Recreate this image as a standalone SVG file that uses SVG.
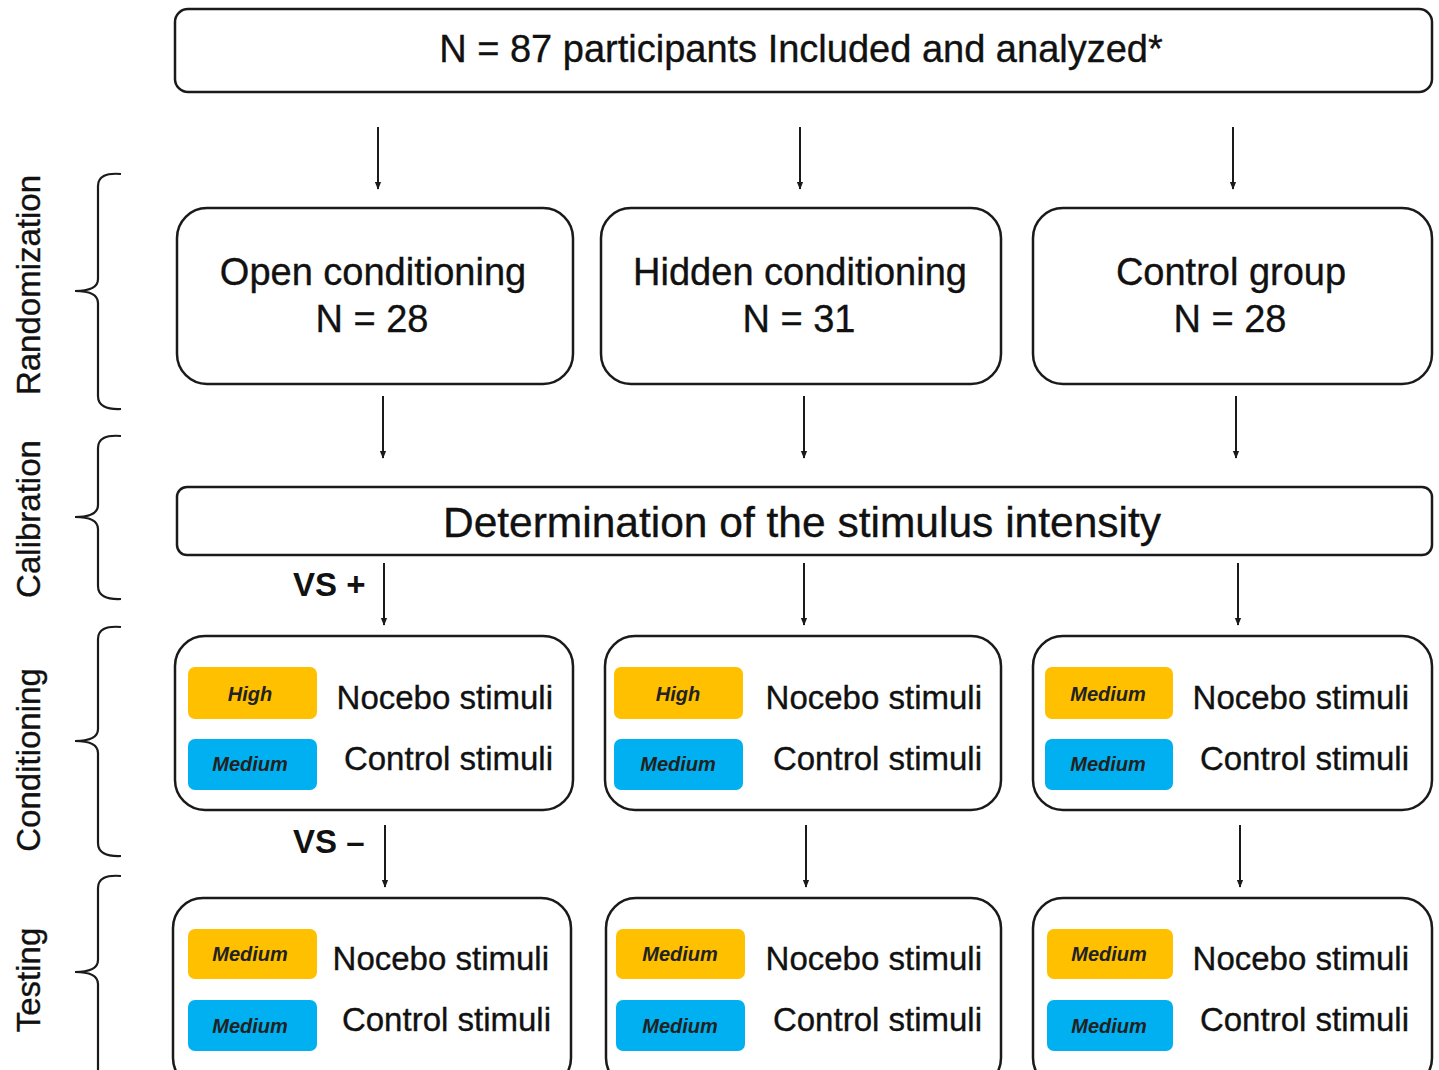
<svg xmlns="http://www.w3.org/2000/svg" width="1439" height="1070" viewBox="0 0 1439 1070">
<style>
text{font-family:"Liberation Sans",Arial,sans-serif;fill:#111;stroke:#111;stroke-width:0.35}
.box{fill:#fff;stroke:#1a1a1a;stroke-width:2.5}
.big{font-size:38px;text-anchor:middle}
.grp{font-size:38px;text-anchor:middle}
.stim{font-size:33px;text-anchor:end}
.pill{font-size:20px;font-weight:bold;font-style:italic;text-anchor:middle;fill:#222;stroke:none}
.y{fill:#FFC000}
.b{fill:#00B0F0}
.phase{font-size:33px;text-anchor:middle}
.vs{font-size:33px;font-weight:bold;stroke:none}
.conn line{stroke:#1a1a1a;stroke-width:2;marker-end:url(#ah)}
.brace{fill:none;stroke:#1a1a1a;stroke-width:2.2}
</style>
<defs>
<marker id="ah" viewBox="0 0 10 10" refX="9" refY="5" markerWidth="4" markerHeight="4" orient="auto">
<path d="M0,1 L10,5 L0,9 z" fill="#1a1a1a"/>
</marker>
</defs>
<rect width="1439" height="1070" fill="#fff"/>

<g id="phases">
<text class="phase" transform="translate(40,285) rotate(-90)">Randomization</text>
<text class="phase" transform="translate(40,519) rotate(-90)">Calibration</text>
<text class="phase" transform="translate(40,760) rotate(-90)">Conditioning</text>
<text class="phase" transform="translate(40,980) rotate(-90)">Testing</text>
<path class="brace" d="M121,174 Q98,172 98,186 L98,279 Q98,291 75,291 Q98,291 98,303 L98,396 Q98,410 121,409"/>
<path class="brace" d="M121,436 Q98,434 98,448 L98,505 Q98,517 75,517 Q98,517 98,529 L98,586 Q98,600 121,599"/>
<path class="brace" d="M121,627 Q98,625 98,639 L98,729 Q98,741 75,741 Q98,741 98,753 L98,843 Q98,857 121,856"/>
<path class="brace" d="M121,876 Q98,874 98,888 L98,960 Q98,972 75,972 Q98,972 98,984 L98,1072"/>
</g>

<g id="top">
<rect class="box" x="175" y="9" width="1257" height="83" rx="13"/>
<text class="big" x="801" y="62">N = 87 participants Included and analyzed*</text>
</g>

<g id="open">
<rect class="box" x="177" y="208" width="396" height="176" rx="30"/>
<text class="grp" x="373" y="285">Open conditioning</text>
<text class="grp" x="372" y="332">N = 28</text>
</g>
<g id="hidden">
<rect class="box" x="601" y="208" width="400" height="176" rx="30"/>
<text class="grp" x="800" y="285">Hidden conditioning</text>
<text class="grp" x="799" y="332">N = 31</text>
</g>
<g id="control">
<rect class="box" x="1033" y="208" width="399" height="176" rx="30"/>
<text class="grp" x="1231" y="285">Control group</text>
<text class="grp" x="1230" y="332">N = 28</text>
</g>

<g id="calibration">
<rect class="box" x="177" y="487" width="1255" height="68" rx="10"/>
<text x="802" y="537" style="font-size:42.5px;text-anchor:middle">Determination of the stimulus intensity</text>
</g>

<g id="cond-open">
<rect class="box" x="175" y="636" width="398" height="174" rx="30"/>
<rect class="y" x="188" y="667" width="129" height="52" rx="7"/>
<text class="pill" x="250" y="701">High</text>
<rect class="b" x="188" y="739" width="129" height="51" rx="7"/>
<text class="pill" x="250" y="771">Medium</text>
<text class="stim" x="553" y="709">Nocebo stimuli</text>
<text class="stim" x="553" y="770">Control stimuli</text>
</g>
<g id="cond-hidden">
<rect class="box" x="605" y="636" width="396" height="174" rx="30"/>
<rect class="y" x="614" y="667" width="129" height="52" rx="7"/>
<text class="pill" x="678" y="701">High</text>
<rect class="b" x="614" y="739" width="129" height="51" rx="7"/>
<text class="pill" x="678" y="771">Medium</text>
<text class="stim" x="982" y="709">Nocebo stimuli</text>
<text class="stim" x="982" y="770">Control stimuli</text>
</g>
<g id="cond-control">
<rect class="box" x="1033" y="636" width="399" height="174" rx="30"/>
<rect class="y" x="1045" y="667" width="128" height="52" rx="7"/>
<text class="pill" x="1108" y="701">Medium</text>
<rect class="b" x="1045" y="739" width="128" height="51" rx="7"/>
<text class="pill" x="1108" y="771">Medium</text>
<text class="stim" x="1409" y="709">Nocebo stimuli</text>
<text class="stim" x="1409" y="770">Control stimuli</text>
</g>

<g id="test-open">
<rect class="box" x="173" y="898" width="398" height="190" rx="30"/>
<rect class="y" x="188" y="929" width="129" height="50" rx="7"/>
<text class="pill" x="250" y="961">Medium</text>
<rect class="b" x="188" y="1000" width="129" height="51" rx="7"/>
<text class="pill" x="250" y="1033">Medium</text>
<text class="stim" x="549" y="970">Nocebo stimuli</text>
<text class="stim" x="551" y="1031">Control stimuli</text>
</g>
<g id="test-hidden">
<rect class="box" x="606" y="898" width="395" height="190" rx="30"/>
<rect class="y" x="616" y="929" width="129" height="50" rx="7"/>
<text class="pill" x="680" y="961">Medium</text>
<rect class="b" x="616" y="1000" width="129" height="51" rx="7"/>
<text class="pill" x="680" y="1033">Medium</text>
<text class="stim" x="982" y="970">Nocebo stimuli</text>
<text class="stim" x="982" y="1031">Control stimuli</text>
</g>
<g id="test-control">
<rect class="box" x="1033" y="898" width="399" height="190" rx="30"/>
<rect class="y" x="1047" y="929" width="126" height="50" rx="7"/>
<text class="pill" x="1109" y="961">Medium</text>
<rect class="b" x="1047" y="1000" width="126" height="51" rx="7"/>
<text class="pill" x="1109" y="1033">Medium</text>
<text class="stim" x="1409" y="970">Nocebo stimuli</text>
<text class="stim" x="1409" y="1031">Control stimuli</text>
</g>

<g id="connectors" class="conn">
<line x1="378" y1="127" x2="378" y2="189"/>
<line x1="800" y1="127" x2="800" y2="189"/>
<line x1="1233" y1="127" x2="1233" y2="189"/>
<line x1="383" y1="396" x2="383" y2="458"/>
<line x1="804" y1="396" x2="804" y2="458"/>
<line x1="1236" y1="396" x2="1236" y2="458"/>
<line x1="384" y1="563" x2="384" y2="625"/>
<line x1="804" y1="563" x2="804" y2="625"/>
<line x1="1238" y1="563" x2="1238" y2="625"/>
<line x1="385" y1="825" x2="385" y2="887"/>
<line x1="806" y1="825" x2="806" y2="887"/>
<line x1="1240" y1="825" x2="1240" y2="887"/>
</g>
<g id="labels">
<text class="vs" x="293" y="596">VS +</text>
<text class="vs" x="293" y="853">VS –</text>
</g>
</svg>
